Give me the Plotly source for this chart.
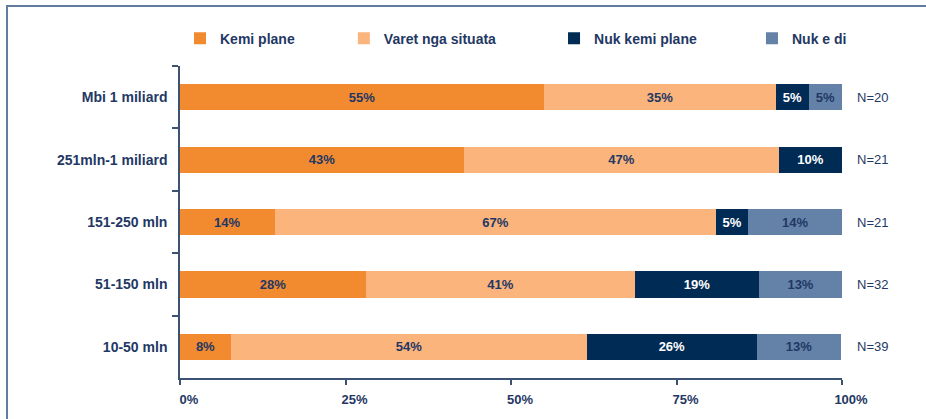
import plotly.graph_objects as go

categories = ["Mbi 1 miliard", "251mln-1 miliard", "151-250 mln", "51-150 mln", "10-50 mln"]
series_names = ["Kemi plane", "Varet nga situata", "Nuk kemi plane", "Nuk e di"]
kemi_plane = [55.0, 42.9, 14.3, 28.1, 7.7]
varet = [35.0, 47.6, 66.7, 40.6, 53.8]
nuk_kemi = [5.0, 9.5, 4.8, 18.8, 25.6]
nuk_e_di = [5.0, 0.0, 14.3, 12.5, 12.8]
kemi_labels = ["55%", "43%", "14%", "28%", "8%"]
varet_labels = ["35%", "47%", "67%", "41%", "54%"]
nuk_kemi_labels = ["5%", "10%", "5%", "19%", "26%"]
nuk_e_di_labels = ["5%", "", "14%", "13%", "13%"]
n_labels = ["N=20", "N=21", "N=21", "N=32", "N=39"]
x_ticks = [0, 25, 50, 75, 100]
x_ticktext = ["0%", "25%", "50%", "75%", "100%"]

colors = ["#F28A30", "#FBB47C", "#002B55", "#6482A7"]
text_colors = ["#1F3864", "#1F3864", "#FFFFFF", "#1F3864"]
NAVY = "#1F3864"
FONT = "Liberation Sans, Arial, sans-serif"

values = [kemi_plane, varet, nuk_kemi, nuk_e_di]
labels = [kemi_labels, varet_labels, nuk_kemi_labels, nuk_e_di_labels]
legend_ids = ["legend", "legend2", "legend3", "legend4"]
legend_x = [0.0, 0.2475, 0.565, 0.864]

fig = go.Figure()
for name, vals, labs, col, tcol, lid in zip(series_names, values, labels, colors, text_colors, legend_ids):
    fig.add_trace(go.Bar(
        name=name, y=categories, x=vals, orientation="h",
        marker=dict(color=col, line=dict(width=0)),
        text=labs, texttemplate="%{text}", textposition="inside",
        insidetextanchor="middle", textangle=0,
        textfont=dict(family=FONT, size=13, color=tcol, weight="bold"),
        legend=lid, hoverinfo="skip",
    ))

for cat, n in zip(categories, n_labels):
    fig.add_annotation(x=100, y=cat, xref="x", yref="y", text=n, showarrow=False,
                       xanchor="left", xshift=13,
                       font=dict(family=FONT, size=13, color=NAVY))

legend_common = dict(orientation="h", yanchor="middle", y=1.088, xanchor="left",
                     font=dict(family=FONT, size=14, color=NAVY, weight="bold"),
                     bgcolor="rgba(0,0,0,0)", borderwidth=0)
layout_legends = {}
for lid, lx in zip(legend_ids, legend_x):
    layout_legends[lid] = dict(x=lx, **legend_common)

fig.update_layout(
    barmode="stack",
    bargap=0.58,
    width=926, height=419,
    margin=dict(l=180, r=84, t=66, b=36),
    paper_bgcolor="white", plot_bgcolor="white",
    showlegend=True,
    uniformtext=dict(minsize=13, mode="show"),
    font=dict(family=FONT, color=NAVY),
    xaxis=dict(range=[0, 100], tickvals=x_ticks, ticktext=x_ticktext,
               showgrid=False, zeroline=False, showline=True, linecolor="#3B5272", linewidth=1.5,
               ticks="outside", ticklen=5, tickcolor="#3B5272", tickwidth=1.5,
               ticklabelshift=9, ticklabelstandoff=4,
               tickfont=dict(family=FONT, size=13, color=NAVY, weight="bold"), fixedrange=True),
    yaxis=dict(autorange="reversed", type="category", categoryorder="array", categoryarray=categories,
               showgrid=False, zeroline=False, showline=True, linecolor="#3B5272", linewidth=1.5,
               ticks="outside", ticklen=6, tickcolor="#3B5272", tickwidth=1.5, tickson="boundaries",
               ticklabelstandoff=8,
               tickfont=dict(family=FONT, size=14, color=NAVY, weight="bold"), fixedrange=True),
    shapes=[dict(type="rect", xref="paper", yref="paper", x0=-0.2613, x1=1.3, y0=1.1924, y1=-0.4,
                 line=dict(color="#617D9E", width=2), fillcolor="rgba(0,0,0,0)", layer="below")],
    **layout_legends,
)

fig.write_html("out.html",
               config={"displayModeBar": False, "staticPlot": False},
               post_script="document.body.style.margin='0';document.body.style.overflow='hidden';")
